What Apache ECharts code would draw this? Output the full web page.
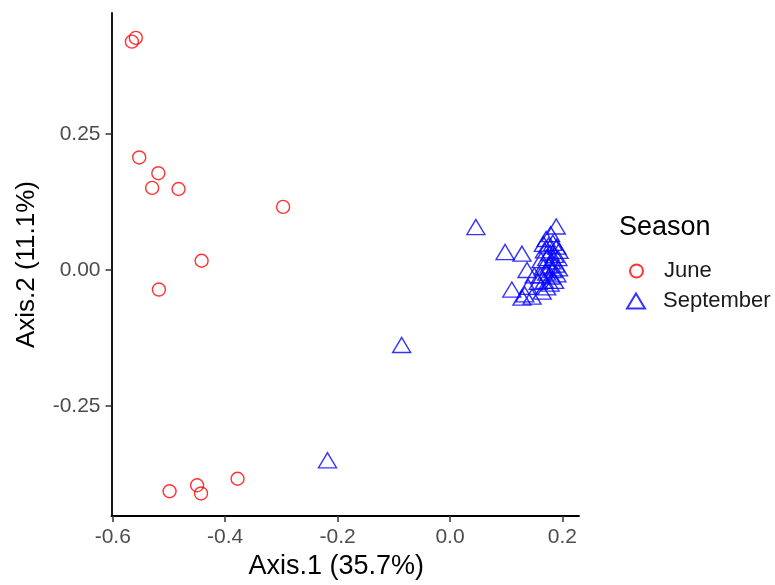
<!DOCTYPE html>
<html>
<head>
<meta charset="utf-8">
<script src="https://cdn.jsdelivr.net/npm/echarts@6/dist/echarts.min.js"></script>
<style>
  html, body { margin: 0; padding: 0; background: #fff; }
  #main { width: 775px; height: 585px; }
</style>
</head>
<body>
<div id="main"></div>
<script>
// PCoA coordinates: [Axis.1, Axis.2]
var junePoints = [
  [-0.559, 0.427], [-0.566, 0.420], [-0.553, 0.207], [-0.519, 0.178],
  [-0.530, 0.151], [-0.483, 0.149], [-0.297, 0.116], [-0.442, 0.017],
  [-0.518, -0.036], [-0.378, -0.384], [-0.450, -0.396], [-0.443, -0.411],
  [-0.499, -0.407]
];
var septemberPoints = [
  [0.046, 0.079], [0.098, 0.033], [0.128, 0.030], [0.189, 0.080],
  [0.179, 0.066], [0.171, 0.057], [0.166, 0.048], [0.175, 0.045],
  [0.183, 0.050], [0.190, 0.043], [0.194, 0.035], [0.168, 0.036],
  [0.178, 0.032], [0.186, 0.028], [0.192, 0.022], [0.172, 0.022],
  [0.162, 0.018], [0.181, 0.016], [0.188, 0.010], [0.176, 0.008],
  [0.166, 0.005], [0.193, 0.003], [0.183, 0.000], [0.137, 0.000],
  [0.172, -0.005], [0.161, -0.010], [0.180, -0.012], [0.190, -0.008],
  [0.150, -0.010], [0.168, -0.020], [0.157, -0.022], [0.178, -0.025],
  [0.186, -0.020], [0.164, -0.040], [0.110, -0.036], [0.139, -0.031],
  [0.128, -0.051], [0.146, -0.049], [0.133, -0.045], [0.172, -0.032],
  [-0.086, -0.138], [-0.218, -0.350]
];
var xTicks = [-0.6, -0.4, -0.2, 0.0, 0.2];
var yTicks = [-0.25, 0.0, 0.25];

var font = 'Liberation Sans, Arial, sans-serif';
var chart = echarts.init(document.getElementById('main'));

var option = {
  animation: false,
  backgroundColor: '#fff',
  title: {
    text: 'Season',
    left: 619,
    top: 214,
    padding: 0,
    textStyle: { fontFamily: font, fontSize: 27, fontWeight: 'normal', color: '#000' }
  },
  legend: [{
    orient: 'vertical',
    left: 629,
    top: 260,
    padding: 0,
    itemWidth: 13,
    itemHeight: 13,
    textStyle: { fontFamily: font, fontSize: 22, color: '#1a1a1a', padding: [0, 0, 0, 16] },
    data: ['June']
  }, {
    orient: 'vertical',
    left: 626,
    top: 290,
    padding: 0,
    itemWidth: 18,
    itemHeight: 15,
    textStyle: { fontFamily: font, fontSize: 22, color: '#1a1a1a', padding: [0, 0, 0, 13] },
    data: ['September']
  }],
  grid: { left: 111.5, right: 196, top: 13, bottom: 63 },
  xAxis: {
    type: 'value',
    min: -0.6023,
    max: 0.2295,
    name: 'Axis.1 (35.7%)',
    nameLocation: 'middle',
    nameGap: 33,
    nameTextStyle: { fontFamily: font, fontSize: 27, color: '#000', padding: [0, 18, 0, 0] },
    splitLine: { show: false },
    axisLine: { show: true, onZero: false, lineStyle: { color: '#000', width: 1.8 } },
    axisTick: { show: true, length: 6, customValues: xTicks, lineStyle: { color: '#333', width: 1.5 } },
    axisLabel: {
      customValues: xTicks,
      margin: 11,
      fontFamily: font, fontSize: 21, color: '#4d4d4d',
      formatter: function (v) { return v.toFixed(1); }
    }
  },
  yAxis: {
    type: 'value',
    min: -0.4527,
    max: 0.4727,
    name: 'Axis.2 (11.1%)',
    nameLocation: 'middle',
    nameRotate: 90,
    nameGap: 72,
    nameTextStyle: { fontFamily: font, fontSize: 26, color: '#000' },
    splitLine: { show: false },
    axisLine: { show: true, onZero: false, lineStyle: { color: '#000', width: 1.8 } },
    axisTick: { show: true, length: 6, customValues: yTicks, lineStyle: { color: '#333', width: 1.5 } },
    axisLabel: {
      customValues: yTicks,
      margin: 11,
      fontFamily: font, fontSize: 21, color: '#4d4d4d',
      formatter: function (v) { return v.toFixed(2); }
    }
  },
  series: [
    {
      name: 'June',
      type: 'scatter',
      data: junePoints,
      symbol: 'circle',
      symbolSize: 13,
      itemStyle: { color: 'rgba(0,0,0,0)', borderColor: '#ff0000', borderWidth: 1.4 }
    },
    {
      name: 'September',
      type: 'scatter',
      data: septemberPoints,
      symbol: 'triangle',
      symbolSize: [18, 15],
      itemStyle: { color: 'rgba(0,0,0,0)', borderColor: '#0000ff', borderWidth: 1.4 }
    }
  ]
};
chart.setOption(option);
</script>
</body>
</html>
